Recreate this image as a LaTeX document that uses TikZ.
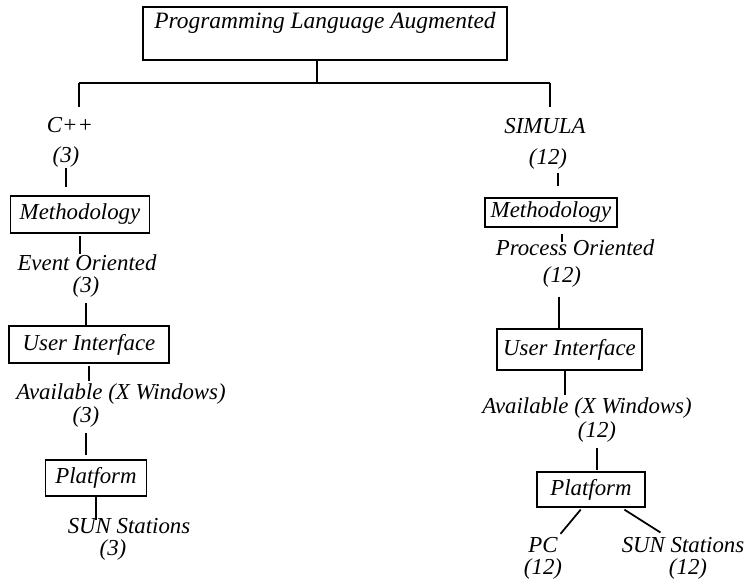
\documentclass[tikz,border=0pt]{standalone}
\usepackage{fontspec}
\setmainfont{Liberation Serif}
\tikzset{
  box/.style={draw=black, line width=1.3pt, inner sep=3pt, font=\fontsize{19.5}{21}\selectfont\itshape},
  txt/.style={inner sep=1pt, text height=13pt, text depth=4pt, font=\fontsize{19.5}{21}\selectfont\itshape},
  tick/.style={line width=1.5pt},
}
\begin{document}
\begin{tikzpicture}[x=0.03cm, y=-0.03cm]
\useasboundingbox (0,0) rectangle (744,582);

\node[box, text height=15pt, text depth=24.2pt, minimum width=10.92cm, font=\fontsize{20}{22}\selectfont\itshape] (lang) at (325,33.5) {Programming Language Augmented};
\coordinate (fork) at (317,83);
\coordinate (fork_l) at (79,83);
\coordinate (fork_r) at (550,83);

% left branch
\node[txt] (cpp) at (70,127) {C++};
\node[txt] (cpp_n) at (66,157) {(3)};
\node[box, minimum width=4.17cm, minimum height=1.11cm] (meth_l) at (80,214.5) {Methodology};
\node[txt] (ev) at (87,265) {Event Oriented};
\node[txt] (ev_n) at (86,287) {(3)};
\node[box, minimum width=4.8cm, minimum height=1.11cm] (ui_l) at (89,344.5) {User Interface};
\node[txt] (av_l) at (121,394) {Available (X Windows)};
\node[txt] (av_l_n) at (86,417) {(3)};
\node[box, minimum width=3.03cm, minimum height=1.08cm] (plat_l) at (96,478) {Platform};
\node[txt] (sun_l) at (129,528) {SUN Stations};
\node[txt] (sun_l_n) at (113,550) {(3)};

% right branch
\node[txt] (sim) at (545,128) {SIMULA};
\node[txt] (sim_n) at (548,159) {(12)};
\node[box, minimum width=3.96cm, minimum height=0.87cm] (meth_r) at (551,212.5) {Methodology};
\node[txt] (pr) at (575,250) {Process Oriented};
\node[txt] (pr_n) at (562,277) {(12)};
\node[box, minimum width=4.35cm, minimum height=1.23cm] (ui_r) at (569.5,349.5) {User Interface};
\node[txt] (av_r) at (587,408) {Available (X Windows)};
\node[txt] (av_r_n) at (597,432) {(12)};
\node[box, minimum width=3.24cm, minimum height=1.05cm] (plat_r) at (591,489.5) {Platform};
\node[txt] (pc) at (543,547) {PC};
\node[txt] (pc_n) at (543,569) {(12)};
\node[txt] (sun_r) at (683,547) {SUN Stations};
\node[txt] (sun_r_n) at (688,569) {(12)};

% tree lines
\draw[tick] (fork |- lang.south) -- (fork);
\draw[tick] (fork_l) -- (fork_r);
\draw[tick, shorten >=7.7pt] (fork_l) -- (fork_l |- cpp.north);
\draw[tick, shorten >=8.5pt] (fork_r) -- (fork_r |- sim.north);

\draw[tick, shorten >=7pt] (cpp_n.south) -- (cpp_n.south |- meth_l.north);
\draw[tick, shorten <=2pt] (meth_l.south) -- (meth_l.south |- ev.north);
\draw[tick, shorten <=4pt] (ev_n.south) -- (ev_n.south |- ui_l.north);
\draw[tick, shorten <=2pt, shorten >=1pt] (ui_l.south) -- (ui_l.south |- av_l.north);
\draw[tick, shorten <=4pt, shorten >=4pt] (av_l_n.south) -- (av_l_n.south |- plat_l.north);
\draw[tick, shorten >=-2.5pt] (plat_l.south) -- (plat_l.south |- sun_l.north);

\draw[tick, shorten <=2.5pt, shorten >=9.4pt] ([xshift=8.5pt]sim_n.south) -- ([xshift=8.5pt]sim_n.south |- meth_r.north);
\draw[tick, shorten <=5pt, shorten >=-2.5pt] ([xshift=9.4pt]meth_r.south) -- ([xshift=9.4pt]meth_r.south |- pr.north);
\draw[tick, shorten <=7pt] ([xshift=-2.5pt]pr_n.south) -- ([xshift=-2.5pt]pr_n.south |- ui_r.north);
\draw[tick, shorten >=1.7pt] ([xshift=-4pt]ui_r.south) -- ([xshift=-4pt]ui_r.south |- av_r.north);
\draw[tick, shorten <=4pt, shorten >=1pt] (av_r_n.south) -- (av_r_n.south |- plat_r.north);
\draw[tick, shorten <=2pt, shorten >=2pt] ([xshift=-7.5pt]plat_r.south) -- (pc.north east);
\draw[tick, shorten <=3pt, shorten >=5pt] ([xshift=26pt]plat_r.south) -- ([xshift=-15pt]sun_r.north);
\end{tikzpicture}
\end{document}
